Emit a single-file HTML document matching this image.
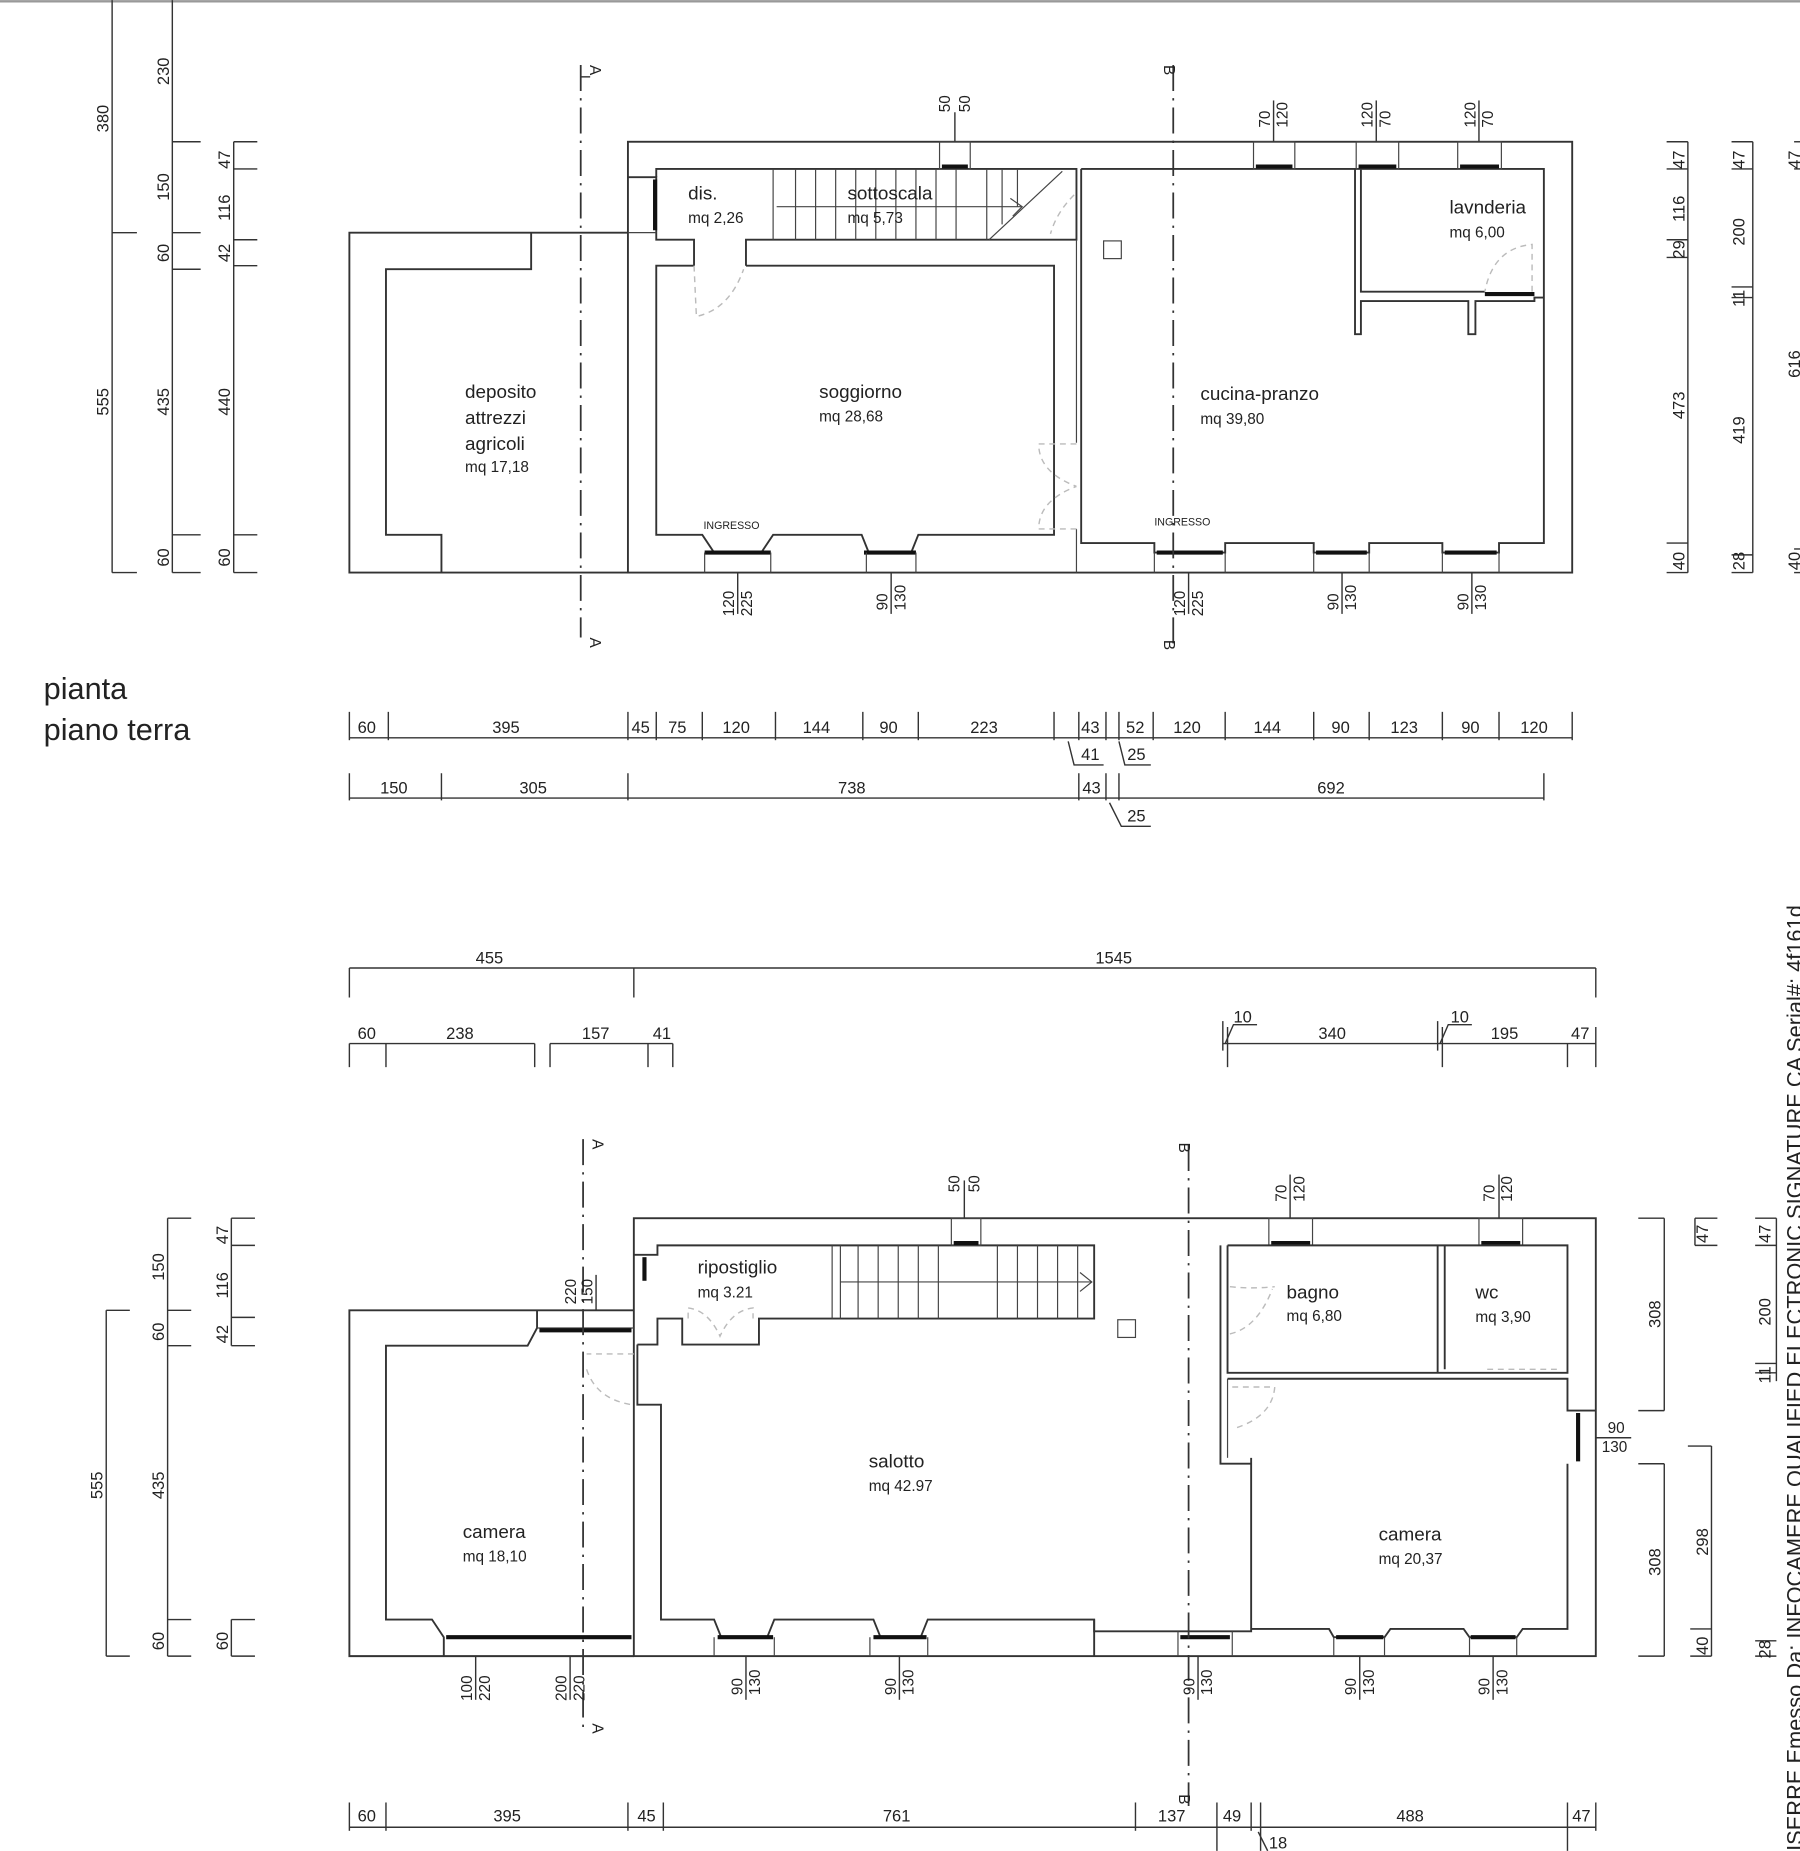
<!DOCTYPE html>
<html><head><meta charset="utf-8"><style>
html,body{margin:0;padding:0;background:#fff;}
svg{display:block}
text{font-family:"Liberation Sans",Arial,sans-serif;fill:#222}
.w{fill:none;stroke:#333;stroke-width:1.6}
.t{fill:none;stroke:#444;stroke-width:1}
.d{fill:none;stroke:#333;stroke-width:1.2}
.ax{fill:none;stroke:#333;stroke-width:1.5;stroke-dasharray:22,6,2,6}
.dr{fill:none;stroke:#bbb;stroke-width:1.2;stroke-dasharray:5,4}
.win{stroke:#111;stroke-width:3.5}
.lab{font-size:16px}
.sm{font-size:13px}
.dm{font-size:14px}
</style></head><body>
<svg width="1800" height="1851" viewBox="0 0 1525 1568" xmlns="http://www.w3.org/2000/svg">
<line x1="0" y1="1" x2="1525" y2="1" stroke="#999" stroke-width="2"/>

<!-- ================= TOP PLAN ================= -->
<rect class="w" x="532" y="120" width="800" height="365"/>
<polyline class="w" points="532,197 296,197 296,485 532,485"/>
<polyline class="w" points="450,197 450,228 327,228 327,453 374,453 374,485"/>
<polyline class="w" points="532,150 556,150 556,203 588,203 588,225"/>
<polyline class="w" points="556,150 556,143 912,143 912,203 632,203 632,225"/>
<line class="t" x1="532" y1="197" x2="556" y2="197"/>
<line class="win" x1="555" y1="152" x2="555" y2="195"/>
<line class="t" x1="655" y1="143" x2="655" y2="203"/>
<g class="t">
<line x1="674" y1="143" x2="674" y2="203"/><line x1="691" y1="143" x2="691" y2="203"/>
<line x1="708" y1="143" x2="708" y2="203"/><line x1="725" y1="143" x2="725" y2="203"/>
<line x1="742" y1="143" x2="742" y2="203"/><line x1="759" y1="143" x2="759" y2="203"/>
<line x1="776" y1="143" x2="776" y2="203"/><line x1="793" y1="143" x2="793" y2="203"/>
<line x1="810" y1="143" x2="810" y2="203"/><line x1="836" y1="143" x2="836" y2="203"/>
<line x1="849" y1="143" x2="849" y2="190"/><line x1="862" y1="143" x2="862" y2="175"/>
<line x1="658" y1="175" x2="866" y2="175"/>
<polyline points="856,168 866,175 858,183"/>
<line x1="838" y1="203" x2="900" y2="145"/>
</g>
<path class="dr" d="M910,165 Q895,180 890,198"/>
<polyline class="w" points="588,225 556,225 556,453 595,453 605,468 645,468 655,453 730,453 736,468 772,468 778,453 893,453 893,225 632,225"/>
<line class="win" x1="597" y1="468" x2="653" y2="468"/>
<line class="win" x1="732" y1="468" x2="776" y2="468"/>
<line class="t" x1="597" y1="468" x2="597" y2="485"/><line class="t" x1="653" y1="468" x2="653" y2="485"/>
<line class="t" x1="734" y1="468" x2="734" y2="485"/><line class="t" x1="776" y1="468" x2="776" y2="485"/>
<path class="dr" d="M588,225 L590,268 Q618,262 630,228"/>
<line class="t" x1="912" y1="203" x2="912" y2="375"/>
<line class="t" x1="912" y1="448" x2="912" y2="485"/>
<path class="dr" d="M912,376 L880,376 Q880,400 912,412 M912,448 L880,448 Q880,424 912,412"/>
<polyline class="w" points="916,143 1308,143 1308,460 1270,460 1270,468 1222,468 1222,460 1160,460 1160,468 1113,468 1113,460 1038,460 1038,468 978,468 978,460 916,460 916,143"/>
<line class="win" x1="980" y1="468" x2="1036" y2="468"/>
<line class="win" x1="1115" y1="468" x2="1158" y2="468"/>
<line class="win" x1="1224" y1="468" x2="1268" y2="468"/>
<g class="t"><line x1="978" y1="468" x2="978" y2="485"/><line x1="1038" y1="468" x2="1038" y2="485"/>
<line x1="1113" y1="468" x2="1113" y2="485"/><line x1="1160" y1="468" x2="1160" y2="485"/>
<line x1="1222" y1="468" x2="1222" y2="485"/><line x1="1270" y1="468" x2="1270" y2="485"/></g>
<rect class="t" x="935" y="204" width="15" height="15"/>
<polyline class="w" points="1148,143 1148,283 1153,283 1153,255 1244,255 1244,283 1250,283 1250,255 1300,255 1300,252 1308,252"/>
<polyline class="w" points="1153,143 1153,247 1258,247"/>
<line class="win" x1="1258" y1="249" x2="1300" y2="249"/>
<path class="dr" d="M1298,247 L1298,207 Q1265,210 1258,247"/>
<g class="t"><rect x="796" y="120" width="26" height="23"/><rect x="1062" y="120" width="35" height="23"/>
<rect x="1149" y="120" width="36" height="23"/><rect x="1235" y="120" width="37" height="23"/></g>
<g class="win"><line x1="798" y1="141" x2="820" y2="141"/><line x1="1064" y1="141" x2="1095" y2="141"/>
<line x1="1151" y1="141" x2="1183" y2="141"/><line x1="1237" y1="141" x2="1270" y2="141"/></g>
<g class="d"><line x1="809" y1="95" x2="809" y2="120"/><line x1="1079" y1="85" x2="1079" y2="120"/><line x1="1166" y1="85" x2="1166" y2="120"/><line x1="1253" y1="85" x2="1253" y2="120"/>
<line x1="625" y1="485" x2="625" y2="520"/><line x1="755" y1="485" x2="755" y2="520"/><line x1="1007" y1="485" x2="1007" y2="520"/><line x1="1137" y1="485" x2="1137" y2="520"/><line x1="1247" y1="485" x2="1247" y2="520"/></g>
<g class="sm">
<text transform="translate(805,95) rotate(-90)">50</text><text transform="translate(822,95) rotate(-90)">50</text>
<text transform="translate(1076,108) rotate(-90)">70</text><text transform="translate(1091,108) rotate(-90)">120</text>
<text transform="translate(1163,108) rotate(-90)">120</text><text transform="translate(1178,108) rotate(-90)">70</text>
<text transform="translate(1250,108) rotate(-90)">120</text><text transform="translate(1265,108) rotate(-90)">70</text>
<text transform="translate(622,522) rotate(-90)">120</text><text transform="translate(637,522) rotate(-90)">225</text>
<text transform="translate(752,517) rotate(-90)">90</text><text transform="translate(767,517) rotate(-90)">130</text>
<text transform="translate(1004,522) rotate(-90)">120</text><text transform="translate(1019,522) rotate(-90)">225</text>
<text transform="translate(1134,517) rotate(-90)">90</text><text transform="translate(1149,517) rotate(-90)">130</text>
<text transform="translate(1244,517) rotate(-90)">90</text><text transform="translate(1259,517) rotate(-90)">130</text>
</g>
<line class="ax" x1="492" y1="55" x2="492" y2="540"/>
<polyline class="d" points="492,65 500,65 M492,537 500,537"/>
<text class="sm" transform="translate(500,55) rotate(90)">A</text>
<text class="sm" transform="translate(500,540) rotate(90)">A</text>
<line class="ax" x1="994" y1="55" x2="994" y2="545"/>
<text class="sm" transform="translate(986,55) rotate(90)">B</text>
<text class="sm" transform="translate(986,542) rotate(90)">B</text>
<text class="lab" x="394" y="337">deposito</text><text class="lab" x="394" y="359">attrezzi</text><text class="lab" x="394" y="381">agricoli</text><text class="sm" x="394" y="400">mq 17,18</text>
<text class="lab" x="583" y="169">dis.</text><text class="sm" x="583" y="189">mq 2,26</text>
<text class="lab" x="718" y="169">sottoscala</text><text class="sm" x="718" y="189">mq 5,73</text>
<text class="lab" x="694" y="337">soggiorno</text><text class="sm" x="694" y="357">mq 28,68</text>
<text class="lab" x="1017" y="339">cucina-pranzo</text><text class="sm" x="1017" y="359">mq 39,80</text>
<text class="lab" x="1228" y="181">lavnderia</text><text class="sm" x="1228" y="201">mq 6,00</text>
<text x="596" y="448" font-size="9">INGRESSO</text><text x="978" y="445" font-size="9">INGRESSO</text>
<g class="d">
<line x1="95" y1="0" x2="95" y2="485"/><line x1="95" y1="197" x2="116" y2="197"/><line x1="95" y1="485" x2="116" y2="485"/>
<line x1="146" y1="0" x2="146" y2="485"/><line x1="146" y1="120" x2="170" y2="120"/><line x1="146" y1="197" x2="170" y2="197"/><line x1="146" y1="228" x2="170" y2="228"/><line x1="146" y1="453" x2="170" y2="453"/><line x1="146" y1="485" x2="170" y2="485"/>
<line x1="198" y1="120" x2="198" y2="485"/><line x1="198" y1="120" x2="218" y2="120"/><line x1="198" y1="143" x2="218" y2="143"/><line x1="198" y1="203" x2="218" y2="203"/><line x1="198" y1="225" x2="218" y2="225"/><line x1="198" y1="453" x2="218" y2="453"/><line x1="198" y1="485" x2="218" y2="485"/>
</g>
<g class="dm">
<text transform="translate(92,112) rotate(-90)">380</text><text transform="translate(92,352) rotate(-90)">555</text>
<text transform="translate(143,72) rotate(-90)">230</text><text transform="translate(143,170) rotate(-90)">150</text><text transform="translate(143,222) rotate(-90)">60</text><text transform="translate(143,352) rotate(-90)">435</text><text transform="translate(143,480) rotate(-90)">60</text>
<text transform="translate(195,143) rotate(-90)">47</text><text transform="translate(195,187) rotate(-90)">116</text><text transform="translate(195,222) rotate(-90)">42</text><text transform="translate(195,352) rotate(-90)">440</text><text transform="translate(195,480) rotate(-90)">60</text>
</g>
<g class="d">
<line x1="1430" y1="120" x2="1430" y2="485"/><line x1="1412" y1="120" x2="1430" y2="120"/><line x1="1412" y1="143" x2="1430" y2="143"/><line x1="1412" y1="203" x2="1430" y2="203"/><line x1="1412" y1="218" x2="1430" y2="218"/><line x1="1412" y1="460" x2="1430" y2="460"/><line x1="1412" y1="485" x2="1430" y2="485"/>
<line x1="1485" y1="120" x2="1485" y2="485"/><line x1="1467" y1="120" x2="1485" y2="120"/><line x1="1467" y1="143" x2="1485" y2="143"/><line x1="1467" y1="243" x2="1485" y2="243"/><line x1="1467" y1="252" x2="1485" y2="252"/><line x1="1467" y1="470" x2="1485" y2="470"/><line x1="1467" y1="485" x2="1485" y2="485"/>
<line x1="1520" y1="120" x2="1525" y2="120"/><line x1="1520" y1="143" x2="1525" y2="143"/><line x1="1520" y1="465" x2="1525" y2="465"/><line x1="1520" y1="485" x2="1525" y2="485"/>
</g>
<g class="dm">
<text transform="translate(1427,143) rotate(-90)">47</text><text transform="translate(1427,188) rotate(-90)">116</text><text transform="translate(1427,219) rotate(-90)">29</text><text transform="translate(1427,355) rotate(-90)">473</text><text transform="translate(1427,483) rotate(-90)">40</text>
<text transform="translate(1478,143) rotate(-90)">47</text><text transform="translate(1478,208) rotate(-90)">200</text><text transform="translate(1478,260) rotate(-90)">11</text><text transform="translate(1478,376) rotate(-90)">419</text><text transform="translate(1478,483) rotate(-90)">28</text>
<text transform="translate(1525,143) rotate(-90)">47</text><text transform="translate(1525,320) rotate(-90)">616</text><text transform="translate(1525,483) rotate(-90)">40</text>
</g>
<text x="37" y="592" font-size="26">pianta</text>
<text x="37" y="627" font-size="26">piano terra</text>
<g class="d">
<line x1="296" y1="625" x2="1332" y2="625"/>
<line x1="296" y1="603" x2="296" y2="627"/><line x1="329" y1="603" x2="329" y2="627"/><line x1="532" y1="603" x2="532" y2="627"/><line x1="556" y1="603" x2="556" y2="627"/><line x1="595" y1="603" x2="595" y2="627"/><line x1="657" y1="603" x2="657" y2="627"/><line x1="731" y1="603" x2="731" y2="627"/><line x1="778" y1="603" x2="778" y2="627"/><line x1="893" y1="603" x2="893" y2="627"/><line x1="914" y1="603" x2="914" y2="627"/><line x1="937" y1="603" x2="937" y2="627"/><line x1="948" y1="603" x2="948" y2="627"/><line x1="977" y1="603" x2="977" y2="627"/><line x1="1038" y1="603" x2="1038" y2="627"/><line x1="1113" y1="603" x2="1113" y2="627"/><line x1="1160" y1="603" x2="1160" y2="627"/><line x1="1222" y1="603" x2="1222" y2="627"/><line x1="1270" y1="603" x2="1270" y2="627"/><line x1="1332" y1="603" x2="1332" y2="627"/>
<polyline points="905,628 910,648 935,648"/><polyline points="948,628 953,648 975,648"/>
<line x1="296" y1="676" x2="1308" y2="676"/>
<line x1="296" y1="655" x2="296" y2="678"/><line x1="374" y1="655" x2="374" y2="678"/><line x1="532" y1="655" x2="532" y2="678"/><line x1="914" y1="655" x2="914" y2="678"/><line x1="937" y1="655" x2="937" y2="678"/><line x1="948" y1="655" x2="948" y2="678"/><line x1="1308" y1="655" x2="1308" y2="678"/>
<polyline points="940,680 950,700 975,700"/>
</g>
<g class="dm">
<text x="303" y="621">60</text><text x="417" y="621">395</text><text x="535" y="621">45</text><text x="566" y="621">75</text><text x="612" y="621">120</text><text x="680" y="621">144</text><text x="745" y="621">90</text><text x="822" y="621">223</text><text x="916" y="621">43</text><text x="954" y="621">52</text><text x="994" y="621">120</text><text x="1062" y="621">144</text><text x="1128" y="621">90</text><text x="1178" y="621">123</text><text x="1238" y="621">90</text><text x="1288" y="621">120</text>
<text x="916" y="644">41</text><text x="955" y="644">25</text>
<text x="322" y="672">150</text><text x="440" y="672">305</text><text x="710" y="672">738</text><text x="917" y="672">43</text><text x="1116" y="672">692</text><text x="955" y="696">25</text>
</g>

<!-- ================= LOWER PLAN ================= -->
<g class="d">
<line x1="296" y1="820" x2="1352" y2="820"/><line x1="296" y1="820" x2="296" y2="845"/><line x1="537" y1="820" x2="537" y2="845"/><line x1="1352" y1="820" x2="1352" y2="845"/>
<line x1="296" y1="884" x2="453" y2="884"/><line x1="296" y1="884" x2="296" y2="904"/><line x1="327" y1="884" x2="327" y2="904"/><line x1="453" y1="884" x2="453" y2="904"/>
<line x1="466" y1="884" x2="570" y2="884"/><line x1="466" y1="884" x2="466" y2="904"/><line x1="549" y1="884" x2="549" y2="904"/><line x1="570" y1="884" x2="570" y2="904"/>
<line x1="1036" y1="884" x2="1352" y2="884"/><line x1="1036" y1="865" x2="1036" y2="890"/><line x1="1040" y1="870" x2="1040" y2="904"/><line x1="1218" y1="865" x2="1218" y2="890"/><line x1="1222" y1="870" x2="1222" y2="904"/><line x1="1328" y1="884" x2="1328" y2="904"/><line x1="1352" y1="870" x2="1352" y2="904"/>
<polyline points="1038,884 1045,868 1065,868"/><polyline points="1220,884 1227,868 1247,868"/>
</g>
<g class="dm">
<text x="403" y="816">455</text><text x="928" y="816">1545</text>
<text x="303" y="880">60</text><text x="378" y="880">238</text><text x="493" y="880">157</text><text x="553" y="880">41</text>
<text x="1045" y="866">10</text><text x="1117" y="880">340</text><text x="1229" y="866">10</text><text x="1263" y="880">195</text><text x="1331" y="880">47</text>
</g>
<rect class="w" x="537" y="1032" width="815" height="371"/>
<polyline class="w" points="537,1110 296,1110 296,1403 537,1403"/>
<polyline class="w" points="455,1110 455,1125 447,1140 327,1140 327,1372 366,1372 376,1387 376,1403"/>
<line class="t" x1="455" y1="1125" x2="537" y2="1125"/>
<line class="win" x1="457" y1="1127" x2="535" y2="1127"/>
<line class="win" x1="378" y1="1387" x2="535" y2="1387"/>
<polyline class="w" points="537,1063 557,1063 557,1055 927,1055 927,1117 643,1117 643,1139 578,1139 578,1117 557,1117 557,1139 540,1139"/>
<line class="win" x1="546" y1="1065" x2="546" y2="1085"/>
<polyline class="w" points="540,1139 540,1190 560,1190 560,1372 605,1372 611,1387 650,1387 656,1372 740,1372 746,1387 780,1387 786,1372 927,1372 927,1403"/>
<polyline class="w" points="927,1372 927,1382 1060,1382 1060,1235"/>
<line class="win" x1="608" y1="1387" x2="655" y2="1387"/>
<line class="win" x1="740" y1="1387" x2="785" y2="1387"/>
<line class="win" x1="1000" y1="1387" x2="1042" y2="1387"/>
<g class="t">
<line x1="605" y1="1387" x2="605" y2="1403"/><line x1="656" y1="1387" x2="656" y2="1403"/>
<line x1="737" y1="1387" x2="737" y2="1403"/><line x1="786" y1="1387" x2="786" y2="1403"/>
<line x1="998" y1="1382" x2="998" y2="1403"/><line x1="1044" y1="1382" x2="1044" y2="1403"/>
</g>
<g class="t">
<line x1="705" y1="1055" x2="705" y2="1117"/><line x1="712" y1="1055" x2="712" y2="1117"/><line x1="727" y1="1055" x2="727" y2="1117"/><line x1="744" y1="1055" x2="744" y2="1117"/><line x1="761" y1="1055" x2="761" y2="1117"/><line x1="778" y1="1055" x2="778" y2="1117"/><line x1="795" y1="1055" x2="795" y2="1117"/>
<line x1="845" y1="1055" x2="845" y2="1117"/><line x1="862" y1="1055" x2="862" y2="1117"/><line x1="879" y1="1055" x2="879" y2="1117"/><line x1="896" y1="1055" x2="896" y2="1117"/><line x1="913" y1="1055" x2="913" y2="1117"/>
<line x1="712" y1="1086" x2="925" y2="1086"/><polyline points="915,1078 925,1086 915,1094"/>
</g>
<rect class="t" x="947" y="1118" width="15" height="15"/>
<path class="dr" d="M583,1117 L583,1108 Q600,1110 610,1132 Q620,1110 638,1108 L638,1117"/>
<path class="dr" d="M537,1147 L497,1147 M497,1160 Q505,1185 535,1190"/>
<rect class="t" x="806" y="1032" width="25" height="23"/><line class="win" x1="808" y1="1053" x2="829" y2="1053"/>
<rect class="t" x="1075" y="1032" width="37" height="23"/><line class="win" x1="1077" y1="1053" x2="1110" y2="1053"/>
<rect class="t" x="1253" y="1032" width="37" height="23"/><line class="win" x1="1255" y1="1053" x2="1288" y2="1053"/>
<polyline class="w" points="1040,1055 1328,1055 1328,1163 1040,1163 1040,1055"/>
<line class="w" x1="1218" y1="1055" x2="1218" y2="1163"/><line class="w" x1="1224" y1="1055" x2="1224" y2="1160"/>
<polyline class="w" points="1040,1168 1328,1168 1328,1195 1352,1195"/>
<polyline class="w" points="1328,1240 1328,1380 1290,1380 1285,1387 1245,1387 1240,1380 1178,1380 1173,1387 1130,1387 1126,1380 1060,1380"/>
<polyline class="w" points="1034,1055 1034,1240 1060,1240"/>
<line class="t" x1="1040" y1="1168" x2="1040" y2="1235"/>
<line class="win" x1="1337" y1="1197" x2="1337" y2="1238"/>
<line class="win" x1="1132" y1="1387" x2="1172" y2="1387"/>
<line class="win" x1="1246" y1="1387" x2="1284" y2="1387"/>
<g class="t"><line x1="1130" y1="1387" x2="1130" y2="1403"/><line x1="1173" y1="1387" x2="1173" y2="1403"/><line x1="1245" y1="1387" x2="1245" y2="1403"/><line x1="1285" y1="1387" x2="1285" y2="1403"/></g>
<path class="dr" d="M1042,1090 Q1060,1092 1080,1090 M1042,1130 Q1065,1125 1078,1092"/>
<path class="dr" d="M1044,1175 L1080,1175 Q1078,1200 1046,1210"/>
<path class="dr" d="M1260,1160 L1320,1160"/>
<line class="ax" x1="494" y1="965" x2="494" y2="1465"/>
<text class="sm" transform="translate(502,965) rotate(90)">A</text><text class="sm" transform="translate(502,1460) rotate(90)">A</text>
<line class="ax" x1="1007" y1="970" x2="1007" y2="1530"/>
<text class="sm" transform="translate(999,968) rotate(90)">B</text><text class="sm" transform="translate(999,1520) rotate(90)">B</text>
<g class="d"><line x1="817" y1="1000" x2="817" y2="1032"/><line x1="1093" y1="995" x2="1093" y2="1032"/><line x1="1270" y1="995" x2="1270" y2="1032"/>
<line x1="403" y1="1403" x2="403" y2="1440"/><line x1="483" y1="1403" x2="483" y2="1440"/><line x1="632" y1="1403" x2="632" y2="1440"/><line x1="762" y1="1403" x2="762" y2="1440"/><line x1="1015" y1="1403" x2="1015" y2="1440"/><line x1="1152" y1="1403" x2="1152" y2="1440"/><line x1="1265" y1="1403" x2="1265" y2="1440"/>
<line x1="1352" y1="1218" x2="1382" y2="1218"/><line x1="505" y1="1080" x2="505" y2="1110"/></g>
<g class="sm">
<text transform="translate(813,1010) rotate(-90)">50</text><text transform="translate(830,1010) rotate(-90)">50</text>
<text transform="translate(1090,1018) rotate(-90)">70</text><text transform="translate(1105,1018) rotate(-90)">120</text>
<text transform="translate(1266,1018) rotate(-90)">70</text><text transform="translate(1281,1018) rotate(-90)">120</text>
<text transform="translate(400,1441) rotate(-90)">100</text><text transform="translate(415,1441) rotate(-90)">220</text>
<text transform="translate(480,1441) rotate(-90)">200</text><text transform="translate(495,1441) rotate(-90)">220</text>
<text transform="translate(502,1105) rotate(-90)">150</text><text transform="translate(488,1105) rotate(-90)">220</text>
<text transform="translate(629,1436) rotate(-90)">90</text><text transform="translate(644,1436) rotate(-90)">130</text>
<text transform="translate(759,1436) rotate(-90)">90</text><text transform="translate(774,1436) rotate(-90)">130</text>
<text transform="translate(1012,1436) rotate(-90)">90</text><text transform="translate(1027,1436) rotate(-90)">130</text>
<text transform="translate(1149,1436) rotate(-90)">90</text><text transform="translate(1164,1436) rotate(-90)">130</text>
<text transform="translate(1262,1436) rotate(-90)">90</text><text transform="translate(1277,1436) rotate(-90)">130</text>
<text x="1362" y="1214">90</text><text x="1357" y="1230">130</text>
</g>
<text class="lab" x="591" y="1079">ripostiglio</text><text class="sm" x="591" y="1099">mq 3.21</text>
<text class="lab" x="736" y="1243">salotto</text><text class="sm" x="736" y="1263">mq 42.97</text>
<text class="lab" x="392" y="1303">camera</text><text class="sm" x="392" y="1323">mq 18,10</text>
<text class="lab" x="1090" y="1100">bagno</text><text class="sm" x="1090" y="1119">mq 6,80</text>
<text class="lab" x="1250" y="1100">wc</text><text class="sm" x="1250" y="1120">mq 3,90</text>
<text class="lab" x="1168" y="1305">camera</text><text class="sm" x="1168" y="1325">mq 20,37</text>
<g class="d">
<line x1="90" y1="1110" x2="90" y2="1403"/><line x1="90" y1="1110" x2="110" y2="1110"/><line x1="90" y1="1403" x2="110" y2="1403"/>
<line x1="142" y1="1032" x2="142" y2="1403"/><line x1="142" y1="1032" x2="162" y2="1032"/><line x1="142" y1="1110" x2="162" y2="1110"/><line x1="142" y1="1140" x2="162" y2="1140"/><line x1="142" y1="1372" x2="162" y2="1372"/><line x1="142" y1="1403" x2="162" y2="1403"/>
<line x1="196" y1="1032" x2="196" y2="1140"/><line x1="196" y1="1032" x2="216" y2="1032"/><line x1="196" y1="1055" x2="216" y2="1055"/><line x1="196" y1="1116" x2="216" y2="1116"/><line x1="196" y1="1140" x2="216" y2="1140"/>
<line x1="196" y1="1372" x2="196" y2="1403"/><line x1="196" y1="1372" x2="216" y2="1372"/><line x1="196" y1="1403" x2="216" y2="1403"/>
</g>
<g class="dm">
<text transform="translate(87,1270) rotate(-90)">555</text>
<text transform="translate(139,1085) rotate(-90)">150</text><text transform="translate(139,1136) rotate(-90)">60</text><text transform="translate(139,1270) rotate(-90)">435</text><text transform="translate(139,1398) rotate(-90)">60</text>
<text transform="translate(193,1054) rotate(-90)">47</text><text transform="translate(193,1100) rotate(-90)">116</text><text transform="translate(193,1138) rotate(-90)">42</text><text transform="translate(193,1398) rotate(-90)">60</text>
</g>
<g class="d">
<line x1="1410" y1="1032" x2="1410" y2="1195"/><line x1="1388" y1="1032" x2="1410" y2="1032"/><line x1="1388" y1="1195" x2="1410" y2="1195"/>
<line x1="1410" y1="1240" x2="1410" y2="1403"/><line x1="1388" y1="1240" x2="1410" y2="1240"/><line x1="1388" y1="1403" x2="1410" y2="1403"/>
<line x1="1450" y1="1225" x2="1450" y2="1403"/><line x1="1430" y1="1225" x2="1450" y2="1225"/><line x1="1432" y1="1380" x2="1450" y2="1380"/><line x1="1432" y1="1403" x2="1450" y2="1403"/>
<line x1="1436" y1="1032" x2="1455" y2="1032"/><line x1="1436" y1="1055" x2="1455" y2="1055"/><line x1="1436" y1="1032" x2="1436" y2="1055"/>
<line x1="1487" y1="1032" x2="1505" y2="1032"/><line x1="1487" y1="1055" x2="1505" y2="1055"/><line x1="1505" y1="1032" x2="1505" y2="1170"/><line x1="1487" y1="1155" x2="1505" y2="1155"/><line x1="1487" y1="1163" x2="1505" y2="1163"/>
<line x1="1487" y1="1390" x2="1505" y2="1390"/><line x1="1487" y1="1403" x2="1505" y2="1403"/>
</g>
<g class="dm">
<text transform="translate(1407,1125) rotate(-90)">308</text><text transform="translate(1407,1335) rotate(-90)">308</text>
<text transform="translate(1447,1318) rotate(-90)">298</text><text transform="translate(1447,1402) rotate(-90)">40</text>
<text transform="translate(1447,1053) rotate(-90)">47</text>
<text transform="translate(1500,1053) rotate(-90)">47</text><text transform="translate(1500,1123) rotate(-90)">200</text><text transform="translate(1500,1172) rotate(-90)">11</text><text transform="translate(1500,1405) rotate(-90)">28</text>
</g>
<g class="d">
<line x1="296" y1="1548" x2="1352" y2="1548"/>
<line x1="296" y1="1527" x2="296" y2="1551"/><line x1="327" y1="1527" x2="327" y2="1551"/><line x1="532" y1="1527" x2="532" y2="1551"/><line x1="562" y1="1527" x2="562" y2="1551"/><line x1="962" y1="1527" x2="962" y2="1551"/><line x1="1031" y1="1527" x2="1031" y2="1568"/><line x1="1060" y1="1527" x2="1060" y2="1551"/><line x1="1068" y1="1527" x2="1068" y2="1568"/><line x1="1328" y1="1527" x2="1328" y2="1568"/><line x1="1352" y1="1527" x2="1352" y2="1551"/>
<polyline points="1066,1552 1074,1568"/>
</g>
<g class="dm">
<text x="303" y="1543">60</text><text x="418" y="1543">395</text><text x="540" y="1543">45</text><text x="748" y="1543">761</text><text x="981" y="1543">137</text><text x="1036" y="1543">49</text><text x="1183" y="1543">488</text><text x="1332" y="1543">47</text><text x="1075" y="1566">18</text>
</g>
<text transform="translate(1527,1568) rotate(-90)" font-size="18.5" fill="#222">ISERRE Emesso Da: INFOCAMERE QUALIFIED ELECTRONIC SIGNATURE CA Serial#: 4f161d</text>
</svg>
</body></html>
